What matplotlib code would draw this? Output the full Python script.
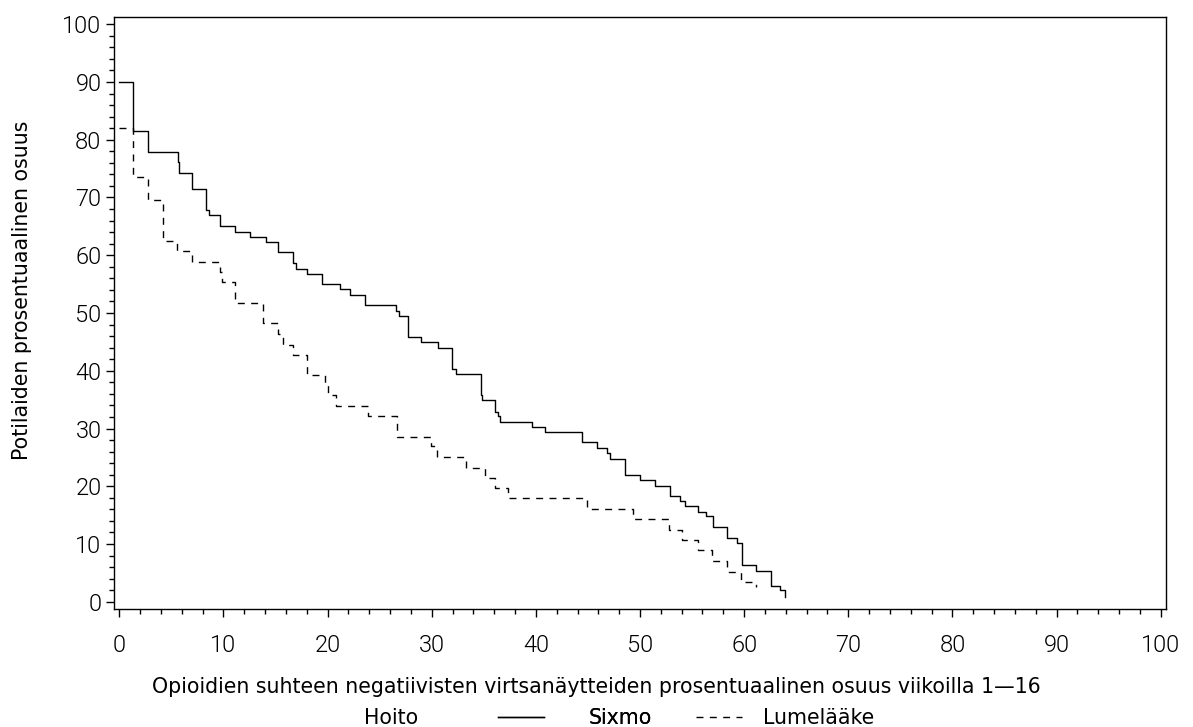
import numpy as np
import matplotlib
matplotlib.use("Agg")
import matplotlib.pyplot as plt
from matplotlib.lines import Line2D

# Sixmo (solid) step curve: start of each step and value after it
sixmo_x = [0, 1.34, 2.78, 5.6, 5.75, 6.98, 8.32, 8.65, 9.66, 11.1, 12.54, 14.07,
           15.28, 16.67, 16.93, 18.04, 19.48, 21.23, 22.2, 23.58, 26.53, 26.84,
           27.74, 28.95, 30.56, 31.96, 32.38, 34.71, 34.85, 36.1, 36.37, 36.6,
           39.67, 40.85, 44.47, 45.87, 46.83, 47.09, 48.6, 50.04, 51.41, 52.85,
           53.81, 54.29, 55.57, 56.37, 57.0, 58.35, 59.31, 59.79, 61.17, 62.54,
           63.41, 63.89]
sixmo_y = [90, 81.5, 77.9, 76.2, 74.3, 71.5, 67.8, 67.0, 65.1, 64.1, 63.2, 62.3,
           60.5, 58.6, 57.7, 56.8, 55.1, 54.1, 53.1, 51.3, 50.4, 49.5,
           45.8, 44.9, 44.0, 40.3, 39.4, 35.8, 34.9, 32.9, 32.2, 31.2,
           30.2, 29.4, 27.6, 26.6, 25.7, 24.7, 22.0, 21.1, 20.1, 18.3,
           17.4, 16.5, 15.5, 14.8, 12.9, 11.0, 10.2, 6.4, 5.4, 2.8,
           2.1, 0.9]

# Lumelääke (dashed) step curve
lume_x = [0, 1.34, 2.78, 4.17, 5.57, 6.95, 9.66, 9.83, 11.1, 13.82, 15.26, 15.74,
          16.64, 18.04, 19.74, 20.0, 20.77, 23.9, 26.7, 29.98, 30.5, 33.34,
          35.16, 36.12, 37.33, 44.95, 49.33, 52.75, 54.07, 55.57, 56.91, 58.35,
          59.73, 61.1]
lume_y = [82.0, 73.5, 69.6, 62.5, 60.7, 58.9, 57.1, 55.4, 51.8, 48.2, 46.4, 44.5,
          42.7, 39.2, 37.5, 35.8, 33.9, 32.1, 28.6, 26.9, 25.0, 23.2,
          21.4, 19.7, 17.9, 16.1, 14.3, 12.5, 10.7, 8.9, 7.1, 5.2,
          3.5, 2.6]

DASH = (5, 4.6)

fig = plt.figure(figsize=(11.93, 7.27), dpi=100)
ax = fig.add_axes([114/1193, 1-609.3/727, (1166-114)/1193, (609.3-16.7)/727])

ax.step(sixmo_x, sixmo_y, where="post", color="black", lw=1.0)
ax.step(lume_x, lume_y, where="post", color="black", lw=1.0, dashes=DASH)

ax.set_xlim(-0.5, 100.5)
ax.set_ylim(-1.3, 101.3)
ax.set_xticks(np.arange(0, 101, 10))
ax.set_yticks(np.arange(0, 101, 10))
ax.set_xticks(np.arange(0, 101, 2), minor=True)
ax.set_yticks(np.arange(0, 101, 2), minor=True)
ax.tick_params(which="major", length=6, width=1, direction="out", labelsize=17)
ax.tick_params(axis="x", which="major", pad=12)
ax.tick_params(axis="y", which="major", pad=3)
ax.tick_params(which="minor", length=3.5, width=1, direction="out")
for lbl in ax.get_xticklabels() + ax.get_yticklabels():
    lbl.set_family("Roboto")
    lbl.set_fontweight(300)
    lbl.set_color("black")
for s in ax.spines.values():
    s.set_linewidth(1.0)

fs = 14.8
fig.text(596.5/1193, 1-687/727, "Opioidien suhteen negatiivisten virtsanäytteiden prosentuaalinen osuus viikoilla 1\u201416",
         ha="center", va="center", fontsize=fs, family="DejaVu Sans")
fig.text(22/1193, 1-290/727, "Potilaiden prosentuaalinen osuus", rotation=90,
         ha="center", va="center", fontsize=fs, family="DejaVu Sans")

# legend row
ly = 1 - 718/727
fig.text(364/1193, ly, "Hoito", ha="left", va="center", fontsize=fs)
leg1 = fig.legend([Line2D([], [], color="black", lw=1.0)], ["Sixmo"],
                  loc="center left", bbox_to_anchor=(498/1193, ly), frameon=False,
                  fontsize=fs, handlelength=2.25, handletextpad=2.15,
                  borderpad=0, borderaxespad=0)
fig.legend([Line2D([], [], color="black", lw=1.0, dashes=DASH)], ["Lumelääke"],
           loc="center left", bbox_to_anchor=(696/1193, ly), frameon=False,
           fontsize=fs, handlelength=2.25, handletextpad=1.0,
           borderpad=0, borderaxespad=0)
fig.add_artist(leg1)

fig.savefig("out.png", dpi=100)
